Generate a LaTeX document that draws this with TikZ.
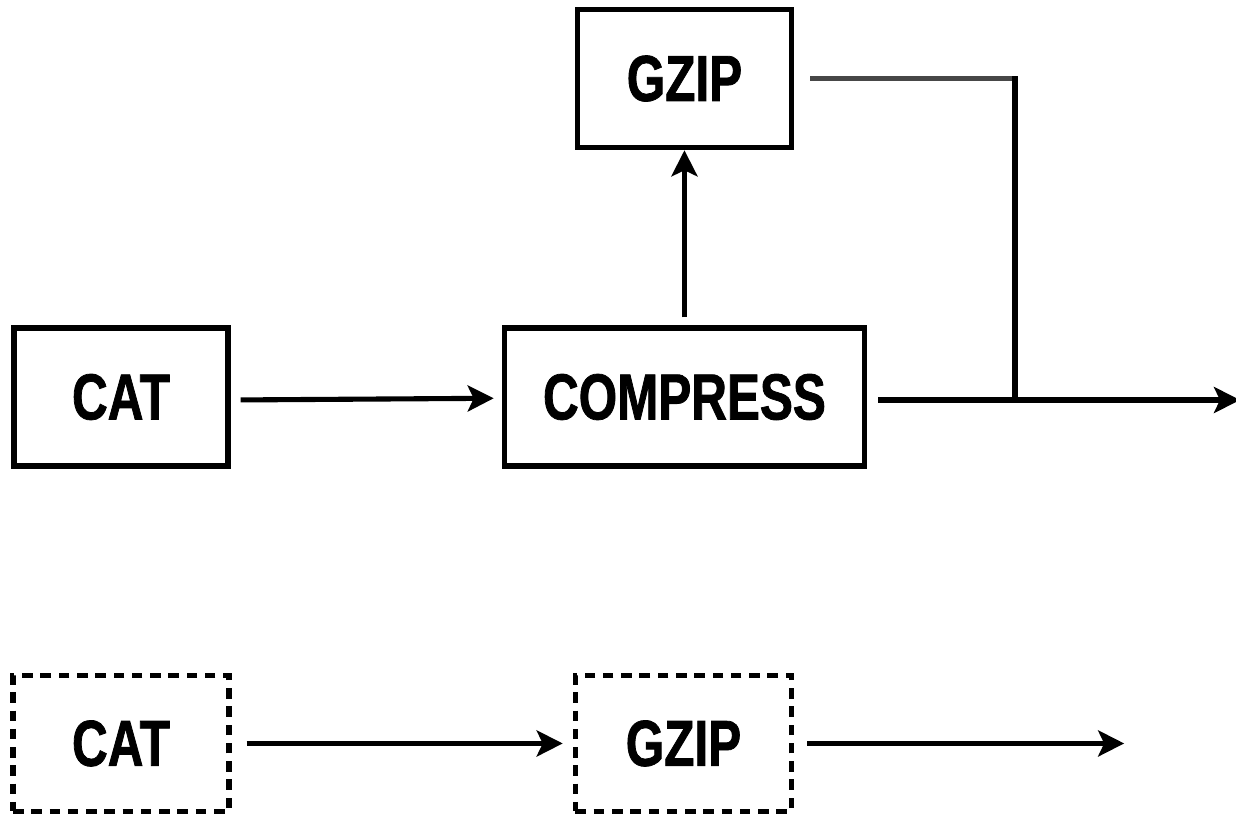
\documentclass[tikz,border=0pt]{standalone}
\usepackage{fontspec}
\setmainfont{Liberation Sans}[FakeStretch=0.76,BoldFeatures={FakeBold=1.2}]
\usetikzlibrary{arrows.meta,positioning}
\tikzset{
  blk/.style={draw,rectangle,line width=3.1pt,minimum width=4.28cm,minimum height=2.76cm,inner sep=0pt,align=center,font=\fontsize{37}{40}\selectfont\bfseries},
  wideblk/.style={blk,minimum width=7.2cm},
  dashblk/.style={blk,dash pattern=on 6pt off 4.4pt,minimum width=4.32cm,minimum height=2.72cm},
  arr/.style={-{Stealth[length=0.52cm,width=0.52cm,inset=0.12cm]},line width=2.9pt},
  ln/.style={line width=2.9pt},
  gln/.style={line width=2.9pt,draw=black!72}
}

\begin{document}
\begin{tikzpicture}[node distance=4.08cm and 5.42cm]
  \useasboundingbox (0,0) rectangle (24.72,-16.3);

  % top pipeline
  \node[blk] (cat) at (2.42,-7.94) {CAT};
  \node[wideblk, right=5.42cm of cat] (compress) {COMPRESS};
  \node[blk, above=3.5cm of compress] (gzip) {GZIP};
  \coordinate (out) at (24.8,-8.0);
  \coordinate (jn) at (20.3,-8.0);

  \draw[arr,shorten <=0.2cm,shorten >=0.16cm] ([yshift=-0.06cm]cat.east) -- (compress);
  \draw[arr,shorten <=0.16cm] (compress) -- (gzip);
  \draw[arr,shorten <=0.22cm] (compress.east |- out) -- (out);
  \draw[gln,shorten <=0.32cm] (gzip.east) -- (gzip.east -| jn);
  \draw[ln] ([yshift=1.45pt]gzip.east -| jn) -- (jn);

  % bottom pipeline
  \node[dashblk, below=of cat] (cat2) {CAT};
  \node[dashblk, right=6.82cm of cat2] (gzip2) {GZIP};
  \coordinate[right=6.6cm of gzip2.east] (end2);

  \draw[arr,shorten <=0.3cm,shorten >=0.2cm] (cat2) -- (gzip2);
  \draw[arr,shorten <=0.26cm] (gzip2) -- (end2);
\end{tikzpicture}
\end{document}
